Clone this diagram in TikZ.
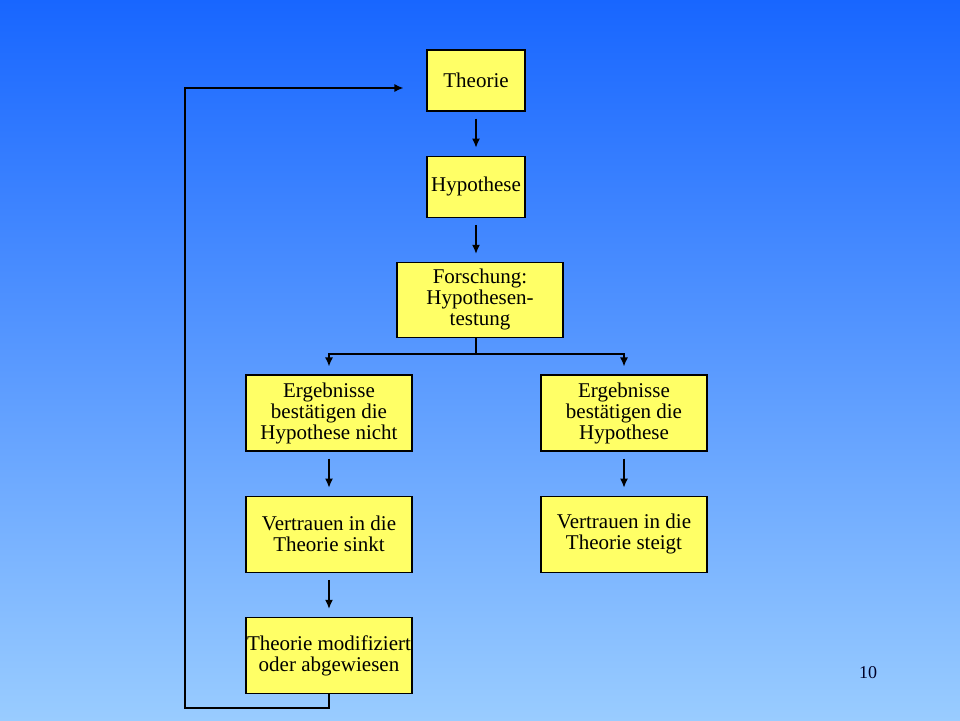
\documentclass[tikz,border=0pt]{standalone}
\usepackage{fontspec}
\setmainfont{Liberation Serif}
\usetikzlibrary{arrows.meta,positioning}

\definecolor{topblue}{RGB}{24,102,255}
\definecolor{botblue}{RGB}{153,204,255}
\definecolor{boxyellow}{RGB}{255,255,102}

\tikzset{
  box/.style={draw, fill=boxyellow, line width=1.2pt, align=center, inner sep=0pt,
              font=\fontsize{21}{21}\selectfont},
  small/.style={box, minimum width=98pt, minimum height=61pt},
  wide/.style={box, minimum width=166pt, minimum height=76pt},
  linie/.style={line width=1.3pt},
  spitze/.style={linie, -{Latex[length=9pt, width=8pt]}},
  pfeil/.style={spitze, shorten <=7pt, shorten >=8pt}
}

\begin{document}
\begin{tikzpicture}[x=1pt, y=-1pt, node distance=44pt]
	\shade[top color=topblue, bottom color=botblue] (0,0) rectangle (960,720);
	\useasboundingbox (0,0) rectangle (960,720);

	\node[small] (theorie) at (476,80.5) {Theorie};
	\node[small] (hypo) [below=of theorie] {Hypothese};
	\node[wide, minimum height=75pt] (forsch) [below=of hypo, xshift=4pt] {Forschung:\\Hypothesen-\\testung};
	\node[wide] (nein) at (329,413) {Ergebnisse\\bestätigen die\\Hypothese nicht};
	\node[wide] (ja) at (624,413) {Ergebnisse\\bestätigen die\\Hypothese};
	\node[wide] (sinkt) [below=of nein] {Vertrauen in die\\Theorie sinkt};
	\node[wide] (steigt) [below=of ja] {Vertrauen in die\\Theorie steigt};
	\node[wide] (modif) [below=of sinkt] {Theorie modifiziert\\oder abgewiesen};

	\node[font=\fontsize{18}{18}\selectfont, text=black!85!blue] (seite) at (868,673) {10};

	\draw [pfeil] (theorie) -- (hypo);
	\draw [pfeil] (hypo) -- (hypo|-forsch.north);
	\draw [linie] (hypo|-forsch.south) -- ++(0,16) coordinate (split);
	\draw [spitze, shorten >=8pt] (split) -| (nein.north);
	\draw [spitze, shorten >=8pt] (split) -| (ja.north);
	\draw [pfeil] (nein) -- (sinkt);
	\draw [pfeil] (ja) -- (steigt);
	\draw [pfeil] (sinkt) -- (modif);

	\coordinate (ecke) at (185,708);
	\coordinate (ziel) at ([xshift=-23pt, yshift=-7.5pt]theorie.west);
	\draw [spitze] (modif.south) |- (ecke) |- (ziel);
\end{tikzpicture}
\end{document}
